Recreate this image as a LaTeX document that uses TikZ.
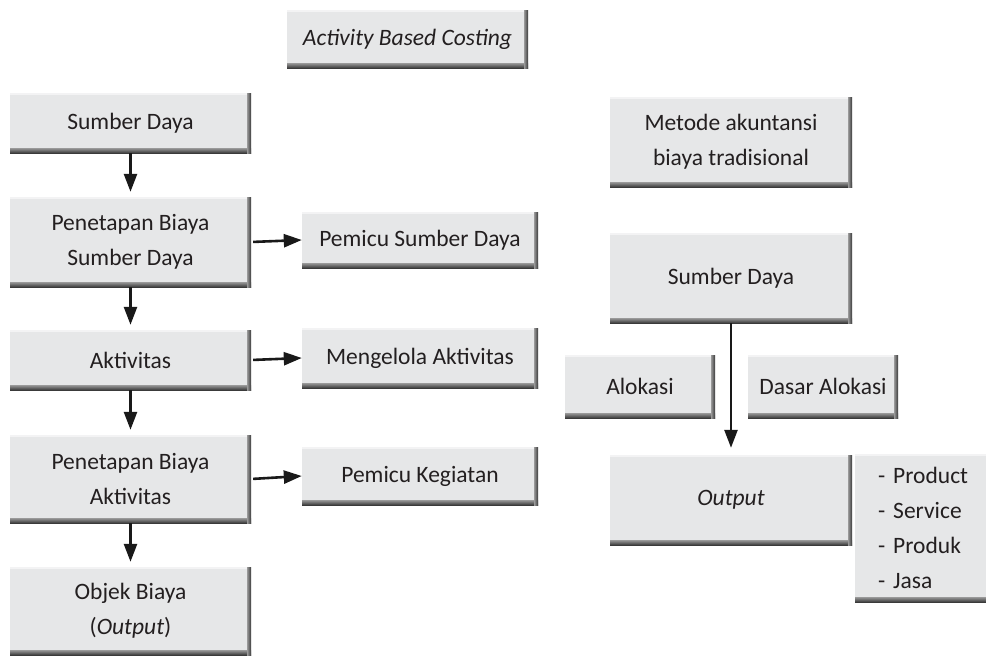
\documentclass[tikz,border=0pt]{standalone}
\usepackage{fontspec}
\setmainfont{Carlito}
\usetikzlibrary{arrows.meta}

\definecolor{boxfill}{HTML}{E6E7E8}
\definecolor{edgeA}{HTML}{9A9A9A}
\definecolor{edgeB}{HTML}{3A3A3A}
\definecolor{hilite}{HTML}{F3F3F4}
\definecolor{txt}{HTML}{231F20}
\newcommand{\boxfont}{\fontsize{23.5}{35}\selectfont}

\tikzset{
  bevel/.style={rectangle, fill=boxfill, inner sep=0pt, align=center,
    text=txt, font=\boxfont,
    path picture={
      % light top edge
      \fill[hilite] (path picture bounding box.north west)
        rectangle ([yshift=-2pt]path picture bounding box.north east);
      % dark lower edge
      \fill[top color=edgeA, bottom color=edgeB]
        ([yshift=5pt]path picture bounding box.south west)
        rectangle (path picture bounding box.south east);
      % dark right edge
      \fill[left color=edgeA, right color=edgeB]
        ([xshift=-4pt]path picture bounding box.south east)
        rectangle (path picture bounding box.north east);
    }},
  flow/.style={line width=2.6pt, draw=black!90,
    -{Triangle[length=18pt,width=13pt]}},
}

\begin{document}
\begin{tikzpicture}[x=1pt,y=-1pt]
\useasboundingbox (0,0) rectangle (986,656);
\clip (0,0) rectangle (986,656);

% title
\node[bevel, minimum width=241pt, minimum height=58pt] (title) at (407.5,39)
  {\itshape Activity Based Costing};

% activity based costing chain
\node[bevel, minimum width=241pt, minimum height=60pt] (sd1) at (130.5,123)
  {Sumber Daya};
\node[bevel, minimum width=241pt, minimum height=90pt] (psd) at (130.5,242)
  {Penetapan Biaya\\Sumber Daya};
\node[bevel, minimum width=241pt, minimum height=60pt] (akt) at (130.5,360)
  {Aktivitas};
\node[bevel, minimum width=241pt, minimum height=88pt] (pakt) at (130.5,479)
  {Penetapan Biaya\\Aktivitas};
\node[bevel, minimum width=241pt, minimum height=88pt] (obj) at (130.5,611)
  {Objek Biaya\\(\textit{Output})};

\node[bevel, minimum width=236pt, minimum height=56pt] (drv) at (420,240)
  {Pemicu Sumber Daya};
\node[bevel, minimum width=236pt, minimum height=60pt] (mgl) at (420,358)
  {Mengelola Aktivitas};
\node[bevel, minimum width=236pt, minimum height=58pt] (keg) at (420,476)
  {Pemicu Kegiatan};

% traditional costing
\node[bevel, minimum width=242pt, minimum height=90pt] (met) at (731,142)
  {Metode akuntansi\\biaya tradisional};
\node[bevel, minimum width=242pt, minimum height=90pt] (sd2) at (731,278)
  {Sumber Daya};
\node[bevel, minimum width=150pt, minimum height=63pt] (alk) at (640,386.5)
  {Alokasi};
\node[bevel, minimum width=150pt, minimum height=63pt] (dsr) at (823,386.5)
  {Dasar Alokasi};
\node[bevel, minimum width=242pt, minimum height=90pt] (out) at (731,500)
  {\itshape Output};
\node[bevel, anchor=west, align=left, text width=120pt, inner xsep=23pt,
  minimum height=148pt] (lst) at (855,528)
  {- Product\\- Service\\- Produk\\- Jasa};

% connectors
\draw[flow, shorten >=5pt] (sd1.south) -- (psd.north);
\draw[flow, shorten >=5pt] (psd.south) -- (akt.north);
\draw[flow, shorten >=5pt] (akt.south) -- (pakt.north);
\draw[flow, shorten >=5pt] (pakt.south) -- (obj.north);
\draw[flow, shorten <=2pt] (psd.east) -- (drv.west);
\draw[flow, shorten <=2pt] (akt.east) -- (mgl.west);
\draw[flow, shorten <=2pt] (pakt.east) -- (keg.west);
\draw[flow, shorten >=7pt] (sd2.south) -- (out.north);
\end{tikzpicture}
\end{document}
